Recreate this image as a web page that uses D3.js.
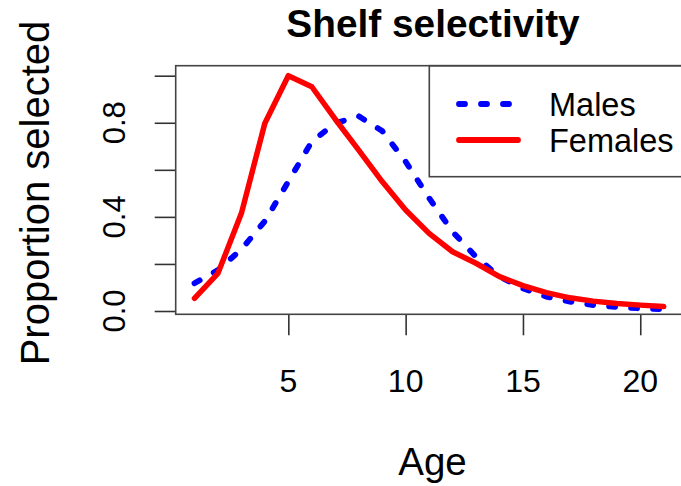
<!DOCTYPE html>
<html lang="en">
<head>
    <meta charset="UTF-8">
    <title>Shelf selectivity</title>
    <script src="https://d3js.org/d3.v7.min.js"></script>
    <style>
        body { margin: 0; background: white; }
        text { font-family: "Liberation Sans", Arial, Helvetica, sans-serif; fill: #000; }
    </style>
</head>
<body>
<div id="chart"></div>
<script>
    // Data
    var ages = [1, 2, 3, 4, 5, 6, 7, 8, 9, 10, 11, 12, 13, 14, 15, 16, 17, 18, 19, 20, 21];
    var males = [0.118, 0.174, 0.262, 0.382, 0.55, 0.72, 0.798, 0.828, 0.765, 0.635, 0.48, 0.337,
        0.23, 0.146, 0.096, 0.061, 0.04, 0.025, 0.017, 0.011, 0.007];
    var females = [0.054, 0.16, 0.415, 0.798, 1.0, 0.953, 0.815, 0.684, 0.55, 0.429, 0.33, 0.252,
        0.203, 0.146, 0.108, 0.078, 0.056, 0.042, 0.032, 0.025, 0.019];
    var xTicks = [5, 10, 15, 20];
    var yTicks = [0, 0.2, 0.4, 0.6, 0.8, 1.0];
    var yTickLabels = ["0.0", "0.4", "0.8"];
    var seriesNames = ["Males", "Females"];

    var width = 681, height = 486;
    // plot region (window.top is read-only, so no "top" name here)
    var plotLeft = 175.7, plotTop = 65.7, plotBottom = 314.3, plotRight = 682.5;
    var tickLen = 21;

    var svg = d3.select("#chart").append("svg")
        .attr("width", width)
        .attr("height", height);

    var x = d3.scaleLinear().domain([0.2, 21.8]).range([plotLeft, plotRight]);
    var y = d3.scaleLinear().domain([-0.014, 1.0425]).range([plotBottom, plotTop]);

    // axes: ticks only, labels placed R style
    var axisBottom = d3.axisBottom(x).tickValues(xTicks).tickSize(tickLen).tickFormat("");
    var gx = svg.append("g").attr("transform", "translate(0," + plotBottom + ")").call(axisBottom);
    gx.select(".domain").remove();
    gx.selectAll("line").style("stroke", "#333").style("stroke-width", 1.6);

    var axisLeft = d3.axisLeft(y).tickValues(yTicks).tickSize(tickLen).tickFormat("");
    var gy = svg.append("g").attr("transform", "translate(" + plotLeft + ",0)").call(axisLeft);
    gy.select(".domain").remove();
    gy.selectAll("line").style("stroke", "#333").style("stroke-width", 1.6);

    svg.selectAll(".xlab").data(xTicks).enter().append("text")
        .attr("class", "xlab")
        .attr("x", function(d) { return x(d); })
        .attr("y", 391.5)
        .attr("text-anchor", "middle")
        .style("font-size", "32px")
        .text(function(d) { return d; });

    svg.selectAll(".ylab").data(yTickLabels).enter().append("text")
        .attr("class", "ylab")
        .attr("transform", function(d) { return "translate(125," + y(+d) + ") rotate(-90)"; })
        .attr("text-anchor", "middle")
        .style("font-size", "31px")
        .text(function(d) { return d; });

    // lines
    var lineOf = function(vals) {
        return d3.line()
            .x(function(d, i) { return x(ages[i]); })
            .y(function(d) { return y(d); })(vals);
    };

    svg.append("defs").append("clipPath").attr("id", "plotclip")
        .append("rect").attr("x", plotLeft).attr("y", plotTop)
        .attr("width", plotRight - plotLeft).attr("height", plotBottom - plotTop);

    var plot = svg.append("g").attr("clip-path", "url(#plotclip)");

    plot.append("path")
        .attr("d", lineOf(males))
        .style("fill", "none")
        .style("stroke", "#0000ff")
        .style("stroke-width", 5.8)
        .style("stroke-linecap", "round")
        .style("stroke-dasharray", "6,16");

    plot.append("path")
        .attr("d", lineOf(females))
        .style("fill", "none")
        .style("stroke", "#ff0000")
        .style("stroke-width", 5.5)
        .style("stroke-linecap", "round")
        .style("stroke-linejoin", "round");

    // legend
    var legend = svg.append("g");
    legend.append("rect")
        .attr("x", 429.3).attr("y", plotTop)
        .attr("width", 300).attr("height", 176.7 - plotTop)
        .style("fill", "white")
        .style("stroke", "#444")
        .style("stroke-width", 1.6);

    var legendStyles = [
        { color: "#0000ff", dash: "6,16", cy: 104 },
        { color: "#ff0000", dash: null, cy: 140 }
    ];
    seriesNames.forEach(function(name, i) {
        var s = legendStyles[i];
        legend.append("line")
            .attr("x1", 459).attr("x2", 518)
            .attr("y1", s.cy).attr("y2", s.cy)
            .style("stroke", s.color)
            .style("stroke-width", 5.8)
            .style("stroke-linecap", "round")
            .style("stroke-dasharray", s.dash);
        legend.append("text")
            .attr("x", 549)
            .attr("y", s.cy + 11.5)
            .style("font-size", "32.5px")
            .text(name);
    });

    // box around plot
    svg.append("rect")
        .attr("x", plotLeft).attr("y", plotTop)
        .attr("width", plotRight - plotLeft).attr("height", plotBottom - plotTop)
        .style("fill", "none")
        .style("stroke", "#444")
        .style("stroke-width", 1.6);

    // titles
    svg.append("text")
        .attr("x", 433)
        .attr("y", 37)
        .attr("text-anchor", "middle")
        .style("font-size", "38.8px")
        .style("font-weight", "bold")
        .text("Shelf selectivity");

    svg.append("text")
        .attr("x", 432.5)
        .attr("y", 475)
        .attr("text-anchor", "middle")
        .style("font-size", "38.5px")
        .text("Age");

    svg.append("text")
        .attr("transform", "translate(49,193) rotate(-90)")
        .attr("text-anchor", "middle")
        .style("font-size", "40px")
        .text("Proportion selected");
</script>
</body>
</html>
